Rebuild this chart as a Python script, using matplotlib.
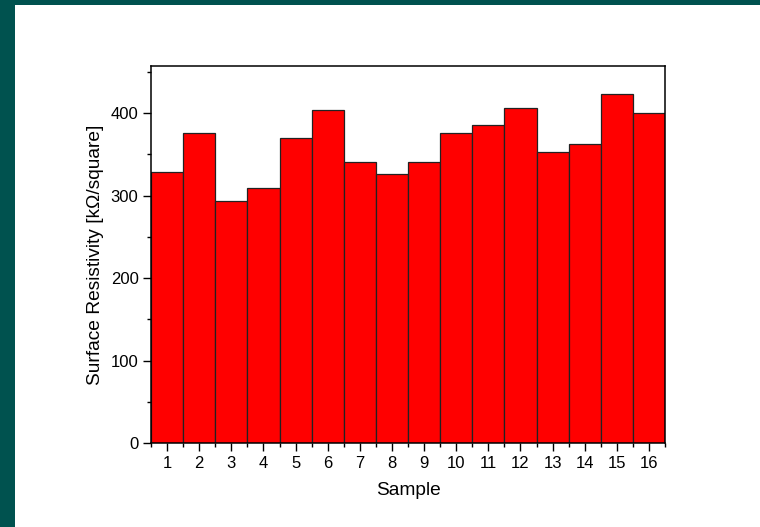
import numpy as np
import matplotlib.pyplot as plt
from matplotlib.patches import Rectangle
from matplotlib.ticker import MultipleLocator

# surface resistivity per sample, kOhm/square
samples = np.arange(1, 17)
resistivity = [328, 376, 293, 309, 370, 404, 341, 326,
               341, 376, 385, 406, 353, 363, 423, 400]

plt.rcParams['font.family'] = ['Liberation Sans', 'DejaVu Sans']

fig = plt.figure(figsize=(7.6, 5.27), dpi=100)
fig.patch.set_facecolor('white')

# dark teal frame on the left and top
frame = '#00524f'
fig.patches.append(Rectangle((0, 0), 15 / 760, 1, transform=fig.transFigure,
                             facecolor=frame, edgecolor='none', zorder=0))
fig.patches.append(Rectangle((0, 1 - 5 / 527), 1, 5 / 527, transform=fig.transFigure,
                             facecolor=frame, edgecolor='none', zorder=0))

ax = fig.add_axes([151 / 760, 1 - 443 / 527, 514 / 760, 377 / 527])
ax.bar(samples, resistivity, width=1.0, color='#ff0000',
       edgecolor='#222222', linewidth=0.9)

ax.set_xlim(0.5, 16.5)
ax.set_ylim(0, 457)
ax.set_xticks(samples)
ax.xaxis.set_minor_locator(MultipleLocator(1, offset=0.5))
ax.yaxis.set_major_locator(MultipleLocator(100))
ax.yaxis.set_minor_locator(MultipleLocator(50))
ax.tick_params(which='both', direction='out', width=1.0, labelsize=12,
               top=False, right=False)
ax.tick_params(which='major', length=6, pad=3)
ax.tick_params(which='minor', length=3)
for s in ax.spines.values():
    s.set_linewidth(1.1)

ax.set_xlabel('Sample', fontsize=13.8, labelpad=8)
ax.set_ylabel('Surface Resistivity [k\u03a9/square]', fontsize=13.8, labelpad=5)

fig.savefig('out.png', dpi=100)
